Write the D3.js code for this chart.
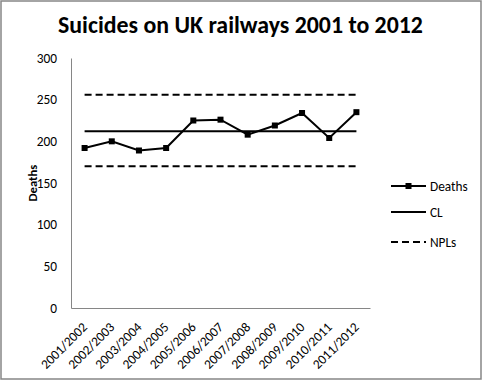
<!DOCTYPE html>
<html><head><meta charset="utf-8">
<script src="https://cdn.jsdelivr.net/npm/d3@7"></script>
<style>body{margin:0;background:#fff}svg{display:block}text{font-family:Carlito,Lato,"Open Sans",sans-serif}</style>
</head><body><svg id="c" width="483" height="381"></svg>
<script>
const categories = ["2001/2002","2002/2003","2003/2004","2004/2005","2005/2006","2006/2007","2007/2008","2008/2009","2009/2010","2010/2011","2011/2012"];
const deaths = [192, 200, 189, 192, 225, 226, 208, 219, 234, 204, 235];
const clValue = [212];
const nplValues = [170, 256];
const yTicks = [0, 50, 100, 150, 200, 250, 300];

const svg = d3.select("#c");
svg.append("rect").attr("x",1).attr("y",1).attr("width",480).attr("height",378)
  .attr("fill","#fff").attr("stroke","#868686").attr("stroke-width",1.5);

const L = 71, R = 370, T = 58, B = 308;
const FS = 13.33;
const x = d3.scaleBand().domain(categories).range([L, R]);
const y = d3.scaleLinear().domain([0, 300]).range([B, T]);
const cx = d => x(d) + x.bandwidth()/2;

// title
const title = svg.append("text").attr("x", 240.5).attr("y", 33).attr("text-anchor","middle")
  .attr("font-weight","bold").attr("font-size",24).attr("fill","#000")
  .text("Suicides on UK railways 2001 to 2012");
const tw = title.node().getComputedTextLength();
title.attr("font-size", 24 * 365 / tw);

// axes
const yAxis = svg.append("g").attr("transform",`translate(${L},0)`)
  .call(d3.axisLeft(y).tickValues(yTicks).tickSize(0).tickPadding(14));
yAxis.select(".domain").attr("stroke","#868686").attr("stroke-width",1);
yAxis.selectAll("text").attr("font-size",FS).attr("fill","#000").style("font-family","Carlito,Lato,sans-serif");

const xAxis = svg.append("g").attr("transform",`translate(0,${B})`)
  .call(d3.axisBottom(x).tickSize(0).tickFormat(""));
xAxis.select(".domain").attr("stroke","#868686").attr("stroke-width",1);

svg.append("g").selectAll("text").data(categories).join("text")
  .attr("transform", d => `translate(${cx(d)+3.5},${B+20}) rotate(-45)`)
  .attr("text-anchor","end").attr("font-size",FS).attr("fill","#000")
  .text(d => d);

svg.append("text").attr("transform",`translate(37,${(T+B)/2}) rotate(-90)`)
  .attr("text-anchor","middle").attr("font-size",12.7).attr("font-weight","bold").text("Deaths");

// limit lines
const x0 = cx(categories[0]), x1 = cx(categories[categories.length-1]);
svg.append("g").selectAll("line").data(nplValues).join("line")
  .attr("x1", x0).attr("x2", x1).attr("y1", d => y(d)).attr("y2", d => y(d))
  .attr("stroke","#000").attr("stroke-width",2).attr("stroke-dasharray","7,4");
svg.append("g").selectAll("line").data(clValue).join("line")
  .attr("x1", x0).attr("x2", x1).attr("y1", d => y(d)).attr("y2", d => y(d))
  .attr("stroke","#000").attr("stroke-width",2);

// deaths series
const line = d3.line().x((d,i) => cx(categories[i])).y(d => y(d));
svg.append("path").datum(deaths).attr("d", line).attr("fill","none")
  .attr("stroke","#000").attr("stroke-width",2);
svg.append("g").selectAll("rect").data(deaths).join("rect")
  .attr("x",(d,i)=>cx(categories[i])-3).attr("y",d=>y(d)-3)
  .attr("width",6).attr("height",6).attr("fill","#000");

// legend
const leg = [{name:"Deaths", dash:null, marker:true, yy:186},
             {name:"CL", dash:null, marker:false, yy:212},
             {name:"NPLs", dash:"7,4", marker:false, yy:242}];
const lg = svg.append("g");
leg.forEach(e => {
  lg.append("line").attr("x1",391).attr("x2",426).attr("y1",e.yy).attr("y2",e.yy)
    .attr("stroke","#000").attr("stroke-width",2).attr("stroke-dasharray",e.dash);
  if (e.marker) lg.append("rect").attr("x",405.5).attr("y",e.yy-3).attr("width",6).attr("height",6);
  lg.append("text").attr("x",430).attr("y",e.yy).attr("dy","0.35em").attr("font-size",FS).text(e.name);
});
</script></body></html>
